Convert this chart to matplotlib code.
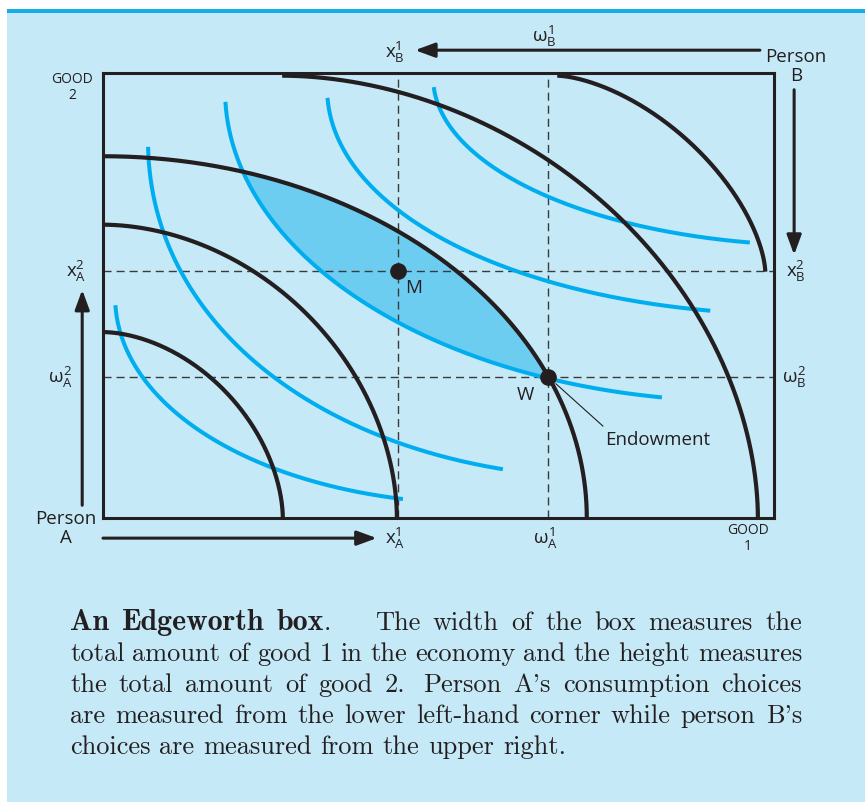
import numpy as np
import matplotlib.pyplot as plt
from matplotlib.patches import Rectangle

plt.rcParams['mathtext.fontset'] = 'custom'
plt.rcParams['mathtext.rm'] = 'Open Sans'
plt.rcParams['mathtext.it'] = 'Open Sans'
plt.rcParams['mathtext.bf'] = 'Open Sans:bold'

# box size: good 1 across, good 2 up (A's origin lower left, B's upper right)
good1_total = 10.0
good2_total = 6.63

# A's allocation M and endowment W
xA1, xA2 = 4.40, 3.68
omegaA1, omegaA2 = 6.63, 2.10

# B's indifference curves seen from A's corner (quarter superellipses)
b_cx = [0.0, 0.0, 0.0, 2.67, 6.77]
b_cy = [0.0, 0.0, 0.0, 0.0, 3.67]
b_rx = [2.68, 4.38, 7.21, 7.09, 3.10]
b_ry = [2.77, 4.37, 5.39, 6.59, 2.92]
b_p = [1.8, 1.9, 2.0, 1.9, 1.6]

# A's indifference curves (convex to A's origin)
a_cx = [5.72, 7.75, 9.54, 10.43, 10.73]
a_cy = [3.31, 5.66, 6.36, 6.41, 6.56]
a_rx = [5.54, 7.08, 7.72, 7.09, 5.81]
a_ry = [3.10, 5.07, 4.62, 3.38, 2.50]
a_p = [2.05, 2.1, 2.0, 2.05, 2.0]
a_ystart = [3.17, 5.53, 6.20, 6.26, 6.42]
a_xend = [4.47, 5.96, 8.33, 9.05, 9.64]

BG = '#c6e9f7'
CYAN = '#00aeef'
LENS = '#6dcdf0'
INK = '#231f20'
SANS = 'Open Sans'

fig = plt.figure(figsize=(8.65, 8.02), dpi=100)
fig.patch.set_facecolor('white')
fig.patches.append(Rectangle((7 / 865, 0), 1, 1 - 12 / 802, transform=fig.transFigure,
                             facecolor=BG, edgecolor='none', zorder=-10))
fig.patches.append(Rectangle((7 / 865, 1 - 13 / 802), 1, 4 / 802, transform=fig.transFigure,
                             facecolor='#16aee4', edgecolor='none', zorder=-9))

ax = fig.add_axes([103 / 865, 1 - 518 / 802, 671 / 865, 445 / 802])
ax.set_facecolor('none')
ax.set_xlim(0, good1_total)
ax.set_ylim(0, good2_total)
ax.set_xticks([])
ax.set_yticks([])
for s in ax.spines.values():
    s.set_linewidth(2.2)
    s.set_color(INK)

# shaded lens between A's curve through W and B's curve through W
xs = np.linspace(a_cx[2] - a_rx[2] + 1e-6, b_rx[2] - 1e-6, 600)
upper = b_cy[2] + b_ry[2] * (1 - np.abs((xs - b_cx[2]) / b_rx[2]) ** b_p[2]) ** (1 / b_p[2])
lower = a_cy[2] - a_ry[2] * (1 - np.abs((a_cx[2] - xs) / a_rx[2]) ** a_p[2]) ** (1 / a_p[2])
ax.fill_between(xs, lower, upper, where=upper >= lower, interpolate=True,
                color=LENS, lw=0, zorder=1)

# dashed guide lines
dash = (0, (5.8, 3.6))
for xv in [xA1, omegaA1]:
    ax.plot([xv, xv], [0, good2_total], color='#3a3a3a', lw=1.0, ls=dash, zorder=2)
for yv in [xA2, omegaA2]:
    ax.plot([0, good1_total], [yv, yv], color='#3a3a3a', lw=1.0, ls=dash, zorder=2)

# A's curves
for cx, cy, rx, ry, p, y0, x1 in zip(a_cx, a_cy, a_rx, a_ry, a_p, a_ystart, a_xend):
    t0 = np.arcsin(((cy - y0) / ry) ** (p / 2))
    t1 = np.arccos(((cx - x1) / rx) ** (p / 2))
    t = np.linspace(t0, t1, 300)
    ax.plot(cx - rx * np.cos(t) ** (2 / p), cy - ry * np.sin(t) ** (2 / p),
            color=CYAN, lw=2.9, solid_capstyle='butt', zorder=3)

# B's curves
for cx, cy, rx, ry, p in zip(b_cx, b_cy, b_rx, b_ry, b_p):
    t = np.linspace(0, np.pi / 2, 300)
    ax.plot(cx + rx * np.cos(t) ** (2 / p), cy + ry * np.sin(t) ** (2 / p),
            color=INK, lw=3.0, solid_capstyle='butt', zorder=4)

ax.plot([xA1, omegaA1], [xA2, omegaA2], 'o', color=INK, ms=11, zorder=6, clip_on=False)

txt = dict(family=SANS, color=INK, fontsize=13.5, ha='center', va='center', clip_on=False)
ax.text(xA1 + 0.23, xA2 - 0.25, 'M', **txt)
ax.text(omegaA1 - 0.34, omegaA2 - 0.27, 'W', **txt)
ax.text(8.27, 1.16, 'Endowment', **txt)
ax.plot([omegaA1 + 0.12, 7.45], [omegaA2 - 0.1, 1.37], color=INK, lw=0.8, zorder=5)

# axis labels around the box
ax.text(xA1 - 0.05, -0.30, r'$\mathrm{x}_{\mathrm{A}}^{1}$', **txt)
ax.text(omegaA1 - 0.03, -0.30, r'$ω_{\mathrm{A}}^{1}$', **txt)
ax.text(xA1 - 0.05, 6.94, r'$\mathrm{x}_{\mathrm{B}}^{1}$', **txt)
ax.text(omegaA1 - 0.05, 7.18, r'$ω_{\mathrm{B}}^{1}$', **txt)
ax.text(-0.40, xA2, r'$\mathrm{x}_{\mathrm{A}}^{2}$', **txt)
ax.text(-0.64, omegaA2, r'$ω_{\mathrm{A}}^{2}$', **txt)
ax.text(10.33, xA2, r'$\mathrm{x}_{\mathrm{B}}^{2}$', **txt)
ax.text(10.30, omegaA2, r'$ω_{\mathrm{B}}^{2}$', **txt)
ax.text(-0.55, -0.16, 'Person\nA', linespacing=1.05, **txt)
ax.text(10.33, 6.73, 'Person\nB', linespacing=1.1, **txt)
small = dict(txt, fontsize=10)
ax.text(-0.46, 6.41, 'GOOD\n2', linespacing=1.1, **small)
ax.text(9.61, -0.31, 'GOOD\n1', linespacing=1.1, **small)

arrow = dict(arrowstyle='-|>,head_length=0.6,head_width=0.22', lw=2.2, color=INK,
             shrinkA=0, shrinkB=0, mutation_scale=20)
ax.annotate('', xy=(4.08, -0.30), xytext=(0, -0.30), arrowprops=arrow, annotation_clip=False)
ax.annotate('', xy=(-0.31, 3.40), xytext=(-0.31, 0.19), arrowprops=arrow, annotation_clip=False)
ax.annotate('', xy=(4.65, 6.97), xytext=(9.79, 6.97), arrowprops=arrow, annotation_clip=False)
ax.annotate('', xy=(10.30, 3.92), xytext=(10.30, 6.38), arrowprops=arrow, annotation_clip=False)

# caption, justified line by line
caption = [
    [('An', 1, 1), ('Edgeworth', 1, 1), ('box', 1, 0), ('.', 0, 3.5), ('The', 0, 1), ('width', 0, 1),
     ('of', 0, 1), ('the', 0, 1), ('box', 0, 1), ('measures', 0, 1), ('the', 0, 0)],
    'total amount of good 1 in the economy and the height measures',
    'the total amount of good 2.  Person A\'s consumption choices',
    'are measured from the lower left-hand corner while person B\'s',
    'choices are measured from the upper right.',
]
baselines = [630, 661, 692, 723, 754]
left, right = 70, 802
cap_size = 19
bold_size = 21.5
fig.canvas.draw()
rend = fig.canvas.get_renderer()
for i, (line, yb) in enumerate(zip(caption, baselines)):
    if isinstance(line, str):
        words = []
        for w in line.split(' '):
            if w == '':
                words[-1] = (words[-1][0], 0, 1.5)
            else:
                words.append((w, 0, 1))
    else:
        words = line
    arts = []
    for w, bold, g in words:
        t = fig.text(0, 1 - yb / 802, w, family='cmb10' if bold else 'cmr10',
                     fontsize=bold_size if bold else cap_size, color=INK,
                     va='baseline', ha='left')
        arts.append((t, t.get_window_extent(renderer=rend).width, g))
    total = sum(a[1] for a in arts)
    weights = [a[2] for a in arts[:-1]]
    if i < len(caption) - 1:
        unit = (right - left - total) / sum(weights)
    else:
        unit = 0.333 * cap_size * 100 / 72
    x = left
    for t, wdt, g in arts:
        t.set_x(x / 865)
        x += wdt + g * unit

fig.savefig('out.png', dpi=100, facecolor=fig.get_facecolor())
